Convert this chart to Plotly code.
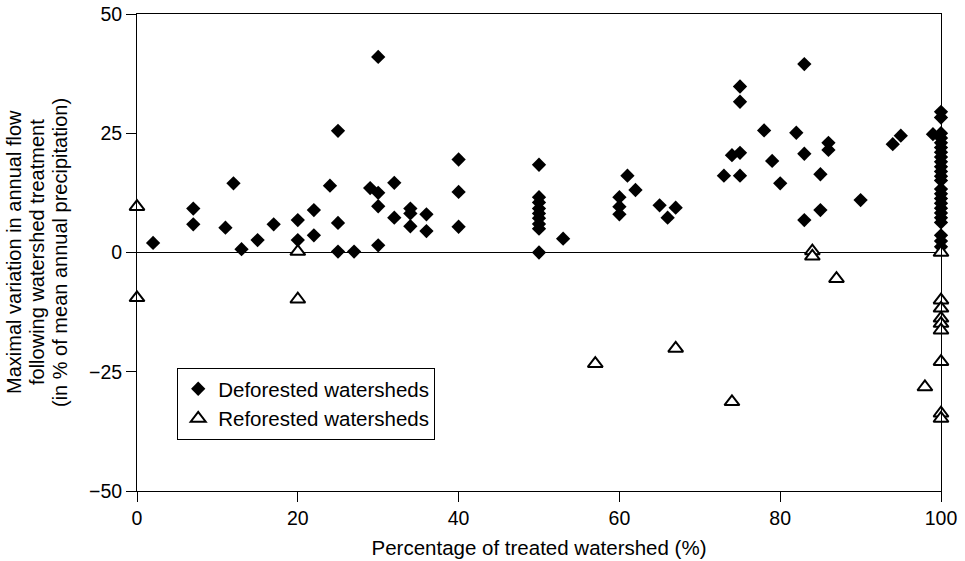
import plotly.graph_objects as go

# Deforested watersheds
def_x = [2, 7, 7, 11, 12, 13, 15, 17, 20, 20, 22, 22, 24, 25, 25, 25, 27, 29,
         30, 30, 30, 30, 32, 32, 34, 34, 34, 36, 36, 40, 40, 40,
         50, 50, 50, 50, 50, 50, 50, 50, 50, 53, 60, 60, 60, 61, 62, 65, 66, 67,
         73, 74, 75, 75, 75, 75, 78, 79, 80, 82, 83, 83, 83, 85, 85, 86, 86, 90,
         94, 95, 99,
         100, 100, 100, 100, 100, 100, 100, 100, 100, 100, 100, 100,
         100, 100, 100, 100, 100, 100, 100, 100, 100, 100, 100, 100]
def_y = [2.0, 9.2, 5.9, 5.2, 14.5, 0.7, 2.6, 5.9, 6.8, 2.6, 8.9, 3.6, 14.0, 25.5, 6.2, 0.2, 0.2, 13.5,
         41.0, 12.5, 9.7, 1.5, 14.6, 7.3, 9.2, 8.2, 5.5, 8.0, 4.5, 19.5, 12.7, 5.4,
         18.4, 11.6, 10.5, 9.2, 8.2, 7.2, 6.0, 5.0, 0.0, 2.9, 11.6, 9.6, 8.0, 16.1, 13.1, 9.9, 7.3, 9.4,
         16.1, 20.4, 34.8, 31.6, 20.9, 16.1, 25.6, 19.2, 14.5, 25.1, 39.5, 20.7, 6.8, 16.4, 8.9, 23.0, 21.5, 11.0,
         22.7, 24.5, 24.8,
         29.5, 28.3, 25.0, 24.0, 23.0, 22.0, 21.0, 20.0, 19.0, 18.0, 17.0, 16.0,
         15.1, 13.3, 12.3, 11.3, 10.3, 9.3, 8.3, 7.3, 6.3, 3.6, 2.4, 1.2]

# Reforested watersheds
ref_x = [0, 0, 20, 20, 57, 67, 74, 84, 84, 87, 98,
         100, 100, 100, 100, 100, 100, 100, 100, 100]
ref_y = [9.6, -9.5, 0.2, -9.8, -23.3, -20.1, -31.3, 0.3, -0.8, -5.5, -28.2,
         0.0, -10.0, -11.7, -13.8, -14.9, -16.3, -22.9, -33.7, -34.8]

x_ticks = [0, 20, 40, 60, 80, 100]
y_ticks = [-50, -25, 0, 25, 50]
y_tick_text = ["\u221250", "\u221225", "0", "25", "50"]

FONT = "Liberation Sans, Arial, Helvetica, sans-serif"

fig = go.Figure()
fig.add_trace(go.Scatter(
    x=def_x, y=def_y, mode="markers", name="Deforested watersheds",
    marker=dict(symbol="diamond", size=11, color="black", line=dict(width=0)),
    cliponaxis=False,
))
fig.add_trace(go.Scatter(
    x=ref_x, y=ref_y, mode="markers", name="Reforested watersheds",
    marker=dict(symbol="triangle-up", size=13, color="white",
                line=dict(color="black", width=2)),
    cliponaxis=False,
))

fig.update_layout(
    width=965, height=561,
    margin=dict(l=137, r=24, t=14, b=70, autoexpand=False),
    paper_bgcolor="white", plot_bgcolor="white",
    font=dict(family=FONT, size=20, color="black"),
    showlegend=True,
    legend=dict(
        x=0.05, y=0.258, xanchor="left", yanchor="top",
        bordercolor="black", borderwidth=1, bgcolor="white",
        font=dict(size=20.5, family=FONT, color="black"),
        tracegroupgap=0,
    ),
    xaxis=dict(
        range=[0, 100], tickvals=x_ticks, ticktext=[str(v) for v in x_ticks],
        showgrid=False, zeroline=False, showline=True, linecolor="black", linewidth=1,
        mirror=True, ticks="outside", ticklen=10, tickcolor="black", tickwidth=1,
        automargin=False,
        tickfont=dict(size=19.5, family=FONT, color="black"),
        title=dict(text="Percentage of treated watershed (%)",
                   font=dict(size=20.5, family=FONT, color="black"), standoff=12),
    ),
    yaxis=dict(
        range=[-50, 50], tickvals=y_ticks, ticktext=y_tick_text,
        showgrid=False, zeroline=True, zerolinecolor="black", zerolinewidth=1,
        showline=True, linecolor="black", linewidth=1, mirror=True,
        ticks="outside", ticklen=10, tickcolor="black", tickwidth=1,
        automargin=False,
        tickfont=dict(size=19.5, family=FONT, color="black"),
    ),
)

ytitle_lines = ["Maximal variation in annual flow",
                "following watershed treatment",
                "(in % of mean annual precipitation)"]
line_px = [13.5, 36.5, 59.5]
for txt, px in zip(ytitle_lines, line_px):
    fig.add_annotation(
        text=txt, xref="paper", yref="paper",
        x=(px - 137) / 804, y=0.5, xanchor="center", yanchor="middle",
        textangle=-90, showarrow=False,
        font=dict(size=20, family=FONT, color="black"),
    )

fig.write_html("out.html")
